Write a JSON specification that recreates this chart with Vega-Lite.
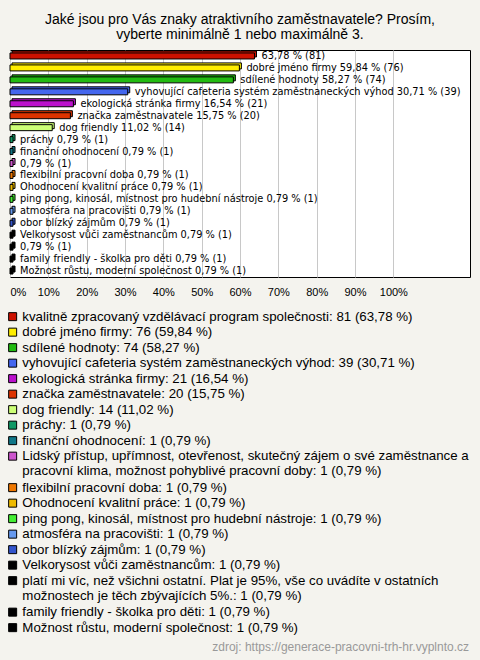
{
  "$schema": "https://vega.github.io/schema/vega-lite/v6.json",
  "width": 460,
  "height": 227,
  "autosize": {"type": "none"},
  "padding": {"left": 10, "top": 50, "right": 10, "bottom": 383},
  "background": "#f4f3ee",
  "title": {
    "text": ["Jaké jsou pro Vás znaky atraktivního zaměstnavatele? Prosím,", "vyberte minimálně 1 nebo maximálně 3."],
    "font": "Liberation Sans", "fontSize": 14, "fontWeight": "normal", "color": "#000",
    "anchor": "middle", "lineHeight": 15, "offset": 8
  },
  "data": {"values": [
    {"odpoved": "kvalitně zpracovaný vzdělávací program společnosti", "pocet": 81, "procenta": 63.78, "popisek": "63,78 % (81)", "legenda": "kvalitně zpracovaný vzdělávací program společnosti: 81 (63,78 %)"},
    {"odpoved": "dobré jméno firmy", "pocet": 76, "procenta": 59.84, "popisek": "dobré jméno firmy 59,84 % (76)", "legenda": "dobré jméno firmy: 76 (59,84 %)"},
    {"odpoved": "sdílené hodnoty", "pocet": 74, "procenta": 58.27, "popisek": "sdílené hodnoty 58,27 % (74)", "legenda": "sdílené hodnoty: 74 (58,27 %)"},
    {"odpoved": "vyhovující cafeteria systém zaměstnaneckých výhod", "pocet": 39, "procenta": 30.71, "popisek": "vyhovující cafeteria systém zaměstnaneckých výhod 30,71 % (39)", "legenda": "vyhovující cafeteria systém zaměstnaneckých výhod: 39 (30,71 %)"},
    {"odpoved": "ekologická stránka firmy", "pocet": 21, "procenta": 16.54, "popisek": "ekologická stránka firmy 16,54 % (21)", "legenda": "ekologická stránka firmy: 21 (16,54 %)"},
    {"odpoved": "značka zaměstnavatele", "pocet": 20, "procenta": 15.75, "popisek": "značka zaměstnavatele 15,75 % (20)", "legenda": "značka zaměstnavatele: 20 (15,75 %)"},
    {"odpoved": "dog friendly", "pocet": 14, "procenta": 11.02, "popisek": "dog friendly 11,02 % (14)", "legenda": "dog friendly: 14 (11,02 %)"},
    {"odpoved": "práchy", "pocet": 1, "procenta": 0.79, "popisek": "práchy 0,79 % (1)", "legenda": "práchy: 1 (0,79 %)"},
    {"odpoved": "finanční ohodnocení", "pocet": 1, "procenta": 0.79, "popisek": "finanční ohodnocení 0,79 % (1)", "legenda": "finanční ohodnocení: 1 (0,79 %)"},
    {"odpoved": "Lidský přístup", "pocet": 1, "procenta": 0.79, "popisek": "0,79 % (1)", "legenda": "Lidský přístup, upřímnost, otevřenost, skutečný zájem o své zaměstnance a|pracovní klima, možnost pohyblivé pracovní doby: 1 (0,79 %)"},
    {"odpoved": "flexibilní pracovní doba", "pocet": 1, "procenta": 0.79, "popisek": "flexibilní pracovní doba 0,79 % (1)", "legenda": "flexibilní pracovní doba: 1 (0,79 %)"},
    {"odpoved": " Ohodnocení kvalitní práce", "pocet": 1, "procenta": 0.79, "popisek": " Ohodnocení kvalitní práce 0,79 % (1)", "legenda": " Ohodnocení kvalitní práce: 1 (0,79 %)"},
    {"odpoved": "ping pong, kinosál, místnost pro hudební nástroje", "pocet": 1, "procenta": 0.79, "popisek": "ping pong, kinosál, místnost pro hudební nástroje 0,79 % (1)", "legenda": "ping pong, kinosál, místnost pro hudební nástroje: 1 (0,79 %)"},
    {"odpoved": "atmosféra na pracovišti", "pocet": 1, "procenta": 0.79, "popisek": "atmosféra na pracovišti 0,79 % (1)", "legenda": "atmosféra na pracovišti: 1 (0,79 %)"},
    {"odpoved": "obor blízký zájmům", "pocet": 1, "procenta": 0.79, "popisek": "obor blízký zájmům 0,79 % (1)", "legenda": "obor blízký zájmům: 1 (0,79 %)"},
    {"odpoved": "Velkorysost vůči zaměstnancům", "pocet": 1, "procenta": 0.79, "popisek": "Velkorysost vůči zaměstnancům 0,79 % (1)", "legenda": "Velkorysost vůči zaměstnancům: 1 (0,79 %)"},
    {"odpoved": "platí mi víc", "pocet": 1, "procenta": 0.79, "popisek": "0,79 % (1)", "legenda": "platí mi víc, než všichni ostatní. Plat je 95%, vše co uvádíte v ostatních|možnostech je těch zbývajících 5%.: 1 (0,79 %)"},
    {"odpoved": "family friendly - školka pro děti", "pocet": 1, "procenta": 0.79, "popisek": "family friendly - školka pro děti 0,79 % (1)", "legenda": "family friendly - školka pro děti: 1 (0,79 %)"},
    {"odpoved": "Možnost růstu, moderní společnost", "pocet": 1, "procenta": 0.79, "popisek": "Možnost růstu, moderní společnost 0,79 % (1)", "legenda": "Možnost růstu, moderní společnost: 1 (0,79 %)"}
  ]},
  "encoding": {
    "y": {"field": "odpoved", "type": "nominal", "sort": null, "axis": null, "scale": {"paddingInner": 0, "paddingOuter": 0}}
  },
  "layer": [
    {
      "mark": {"type": "bar", "height": 6, "stroke": "#000", "strokeWidth": 1, "xOffset": 2, "yOffset": -2},
      "encoding": {
        "x": {"field": "procenta", "type": "quantitative", "scale": {"domain": [0, 120], "nice": false},
          "axis": {"values": [0, 10, 20, 30, 40, 50, 60, 70, 80, 90, 100], "labelExpr": "datum.value + '%'", "title": null,
            "ticks": false, "domain": false, "grid": true, "gridColor": "#c8c8c8", "gridOpacity": 1,
            "labelFont": "Liberation Sans", "labelFontSize": 11, "labelColor": "#000", "labelPadding": 9, "labelFlush": true}},
        "color": {"field": "legenda", "type": "nominal", "sort": null,
          "scale": {"range": ["#cc1100", "#ffee00", "#22bb11", "#4466ee", "#bb11cc", "#dd3300", "#ccff77", "#119966", "#117788", "#cc55cc", "#ee7700", "#eebb00", "#44ee33", "#6699ee", "#3355cc", "#000000", "#000000", "#000000", "#000000"]},
          "legend": {"orient": "none", "legendX": -4, "legendY": 260, "padding": 0, "direction": "vertical", "columns": 1,
            "title": "zdroj: https://generace-pracovni-trh-hr.vyplnto.cz", "titleOrient": "bottom", "titleAnchor": "end",
            "titleFont": "Liberation Sans", "titleFontSize": 12, "titleFontWeight": "normal", "titleColor": "#999999", "titleLimit": 1000, "titlePadding": 8,
            "symbolType": "square", "symbolSize": 64, "symbolStrokeColor": "#000", "symbolStrokeWidth": 1, "symbolOpacity": 1,
            "labelFont": "Liberation Sans", "labelFontSize": 13.3, "labelColor": "#000", "labelLimit": 1000, "labelOffset": 3,
            "labelExpr": "split(datum.label, '|')", "rowPadding": 1.5}}
      }
    },
    {
      "mark": {"type": "bar", "height": 6, "stroke": "#000", "strokeWidth": 1},
      "encoding": {
        "x": {"field": "procenta", "type": "quantitative"},
        "color": {"field": "legenda", "type": "nominal", "sort": null}
      }
    },
    {
      "mark": {"type": "text", "align": "left", "baseline": "middle", "dx": 7, "font": "DejaVu Sans", "fontSize": 9.8, "color": "#000"},
      "encoding": {
        "x": {"field": "procenta", "type": "quantitative"},
        "text": {"field": "popisek"}
      }
    }
  ],
  "config": {"view": {"fill": "#ffffff", "stroke": "#000000", "strokeWidth": 1}}
}
